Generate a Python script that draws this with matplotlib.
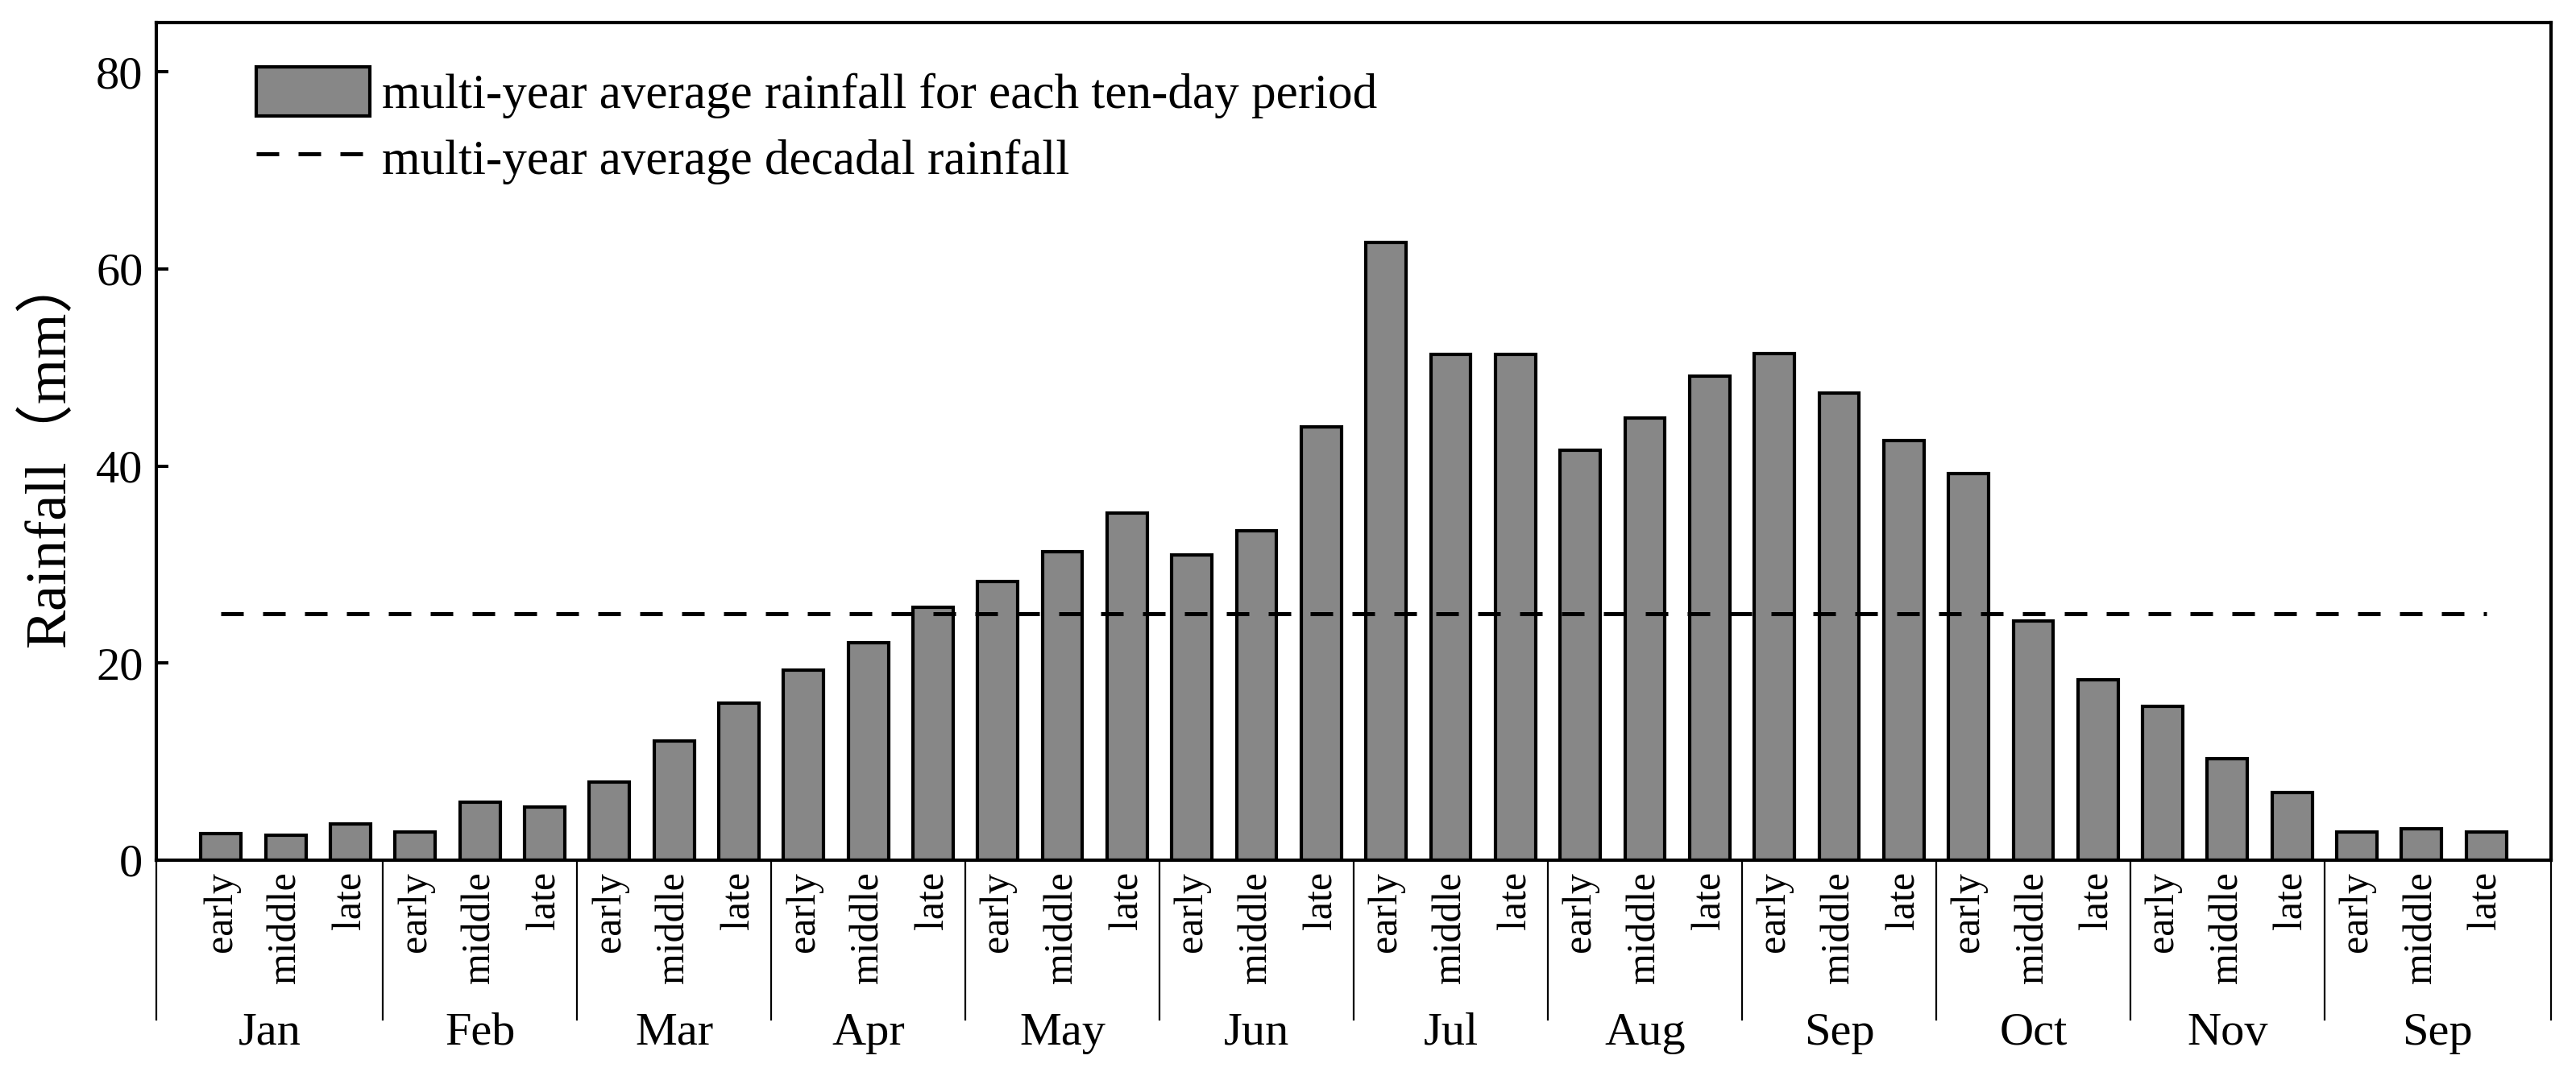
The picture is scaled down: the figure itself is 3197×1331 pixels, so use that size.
import matplotlib
matplotlib.use("Agg")
import matplotlib.pyplot as plt
import numpy as np

plt.rcParams['font.family'] = ['Liberation Serif', 'Noto Sans CJK SC']

months = ["Jan", "Feb", "Mar", "Apr", "May", "Jun", "Jul", "Aug", "Sep", "Oct", "Nov", "Sep"]
periods = ["early", "middle", "late"]
rainfall = [2.7, 2.5, 3.7,
            2.9, 5.9, 5.4,
            7.9, 12.1, 15.9,
            19.3, 22.1, 25.7,
            28.3, 31.3, 35.2,
            31.0, 33.4, 44.0,
            62.7, 51.3, 51.3,
            41.6, 44.9, 49.1,
            51.4, 47.4, 42.6,
            39.2, 24.3, 18.3,
            15.6, 10.3, 6.9,
            2.9, 3.2, 2.9]
decadal_mean = 25.0
bar_label = "multi-year average rainfall for each ten-day period"
line_label = "multi-year average decadal rainfall"
ylabel = "Rainfall（mm）"
yticks = [0, 20, 40, 60, 80]

n = len(rainfall)
x = np.arange(1, n + 1)
tick_labels = [periods[i % 3] for i in range(n)]

fig = plt.figure(figsize=(31.97, 13.31), dpi=100)
ax = fig.add_axes([0.0607, 0.1976, 0.9296, 0.7814])

bars = ax.bar(x, rainfall, width=0.62, color='#878787', edgecolor='black',
              linewidth=3.0, label=bar_label, zorder=2)
line, = ax.plot([x[0], x[-1]], [decadal_mean, decadal_mean], color='black',
                linewidth=3.6, dashes=(5.6, 4.8), label=line_label, zorder=3)

ax.set_xlim(0, n + 1)
ax.set_ylim(0, 85)
ax.set_yticks(yticks)
ax.set_xticks(x)
ax.set_xticklabels(tick_labels, rotation=90, fontsize=36)
ax.tick_params(axis='y', direction='in', length=11, width=2.9, labelsize=42, pad=12)
ax.tick_params(axis='x', direction='in', length=11, width=2.9, pad=10)
for s in ax.spines.values():
    s.set_linewidth(3)

ax.set_ylabel(ylabel, fontsize=52)
ax.yaxis.set_label_coords(-0.0333, 0.49)

# month separators and labels
trans = ax.get_xaxis_transform()
bounds = [0] + [3 * i + 0.5 for i in range(1, len(months))] + [n + 1]
for b in bounds:
    ax.plot([b, b], [0, -0.19], transform=trans, color='black', linewidth=1.6,
            clip_on=False)
for i, m in enumerate(months):
    cx = (bounds[i] + bounds[i + 1]) / 2
    ax.text(cx, -0.22, m, transform=trans, ha='center', va='baseline', fontsize=42)

leg = ax.legend(handles=[bars, line], labels=[bar_label, line_label],
                loc='upper left', bbox_to_anchor=(124 / 2972, 1 - 55 / 1040),
                frameon=False, fontsize=44, handlelength=2.3, handleheight=1.15,
                handletextpad=0.25, labelspacing=0.3, borderpad=0, borderaxespad=0)

fig.savefig("out.png", dpi=100)
